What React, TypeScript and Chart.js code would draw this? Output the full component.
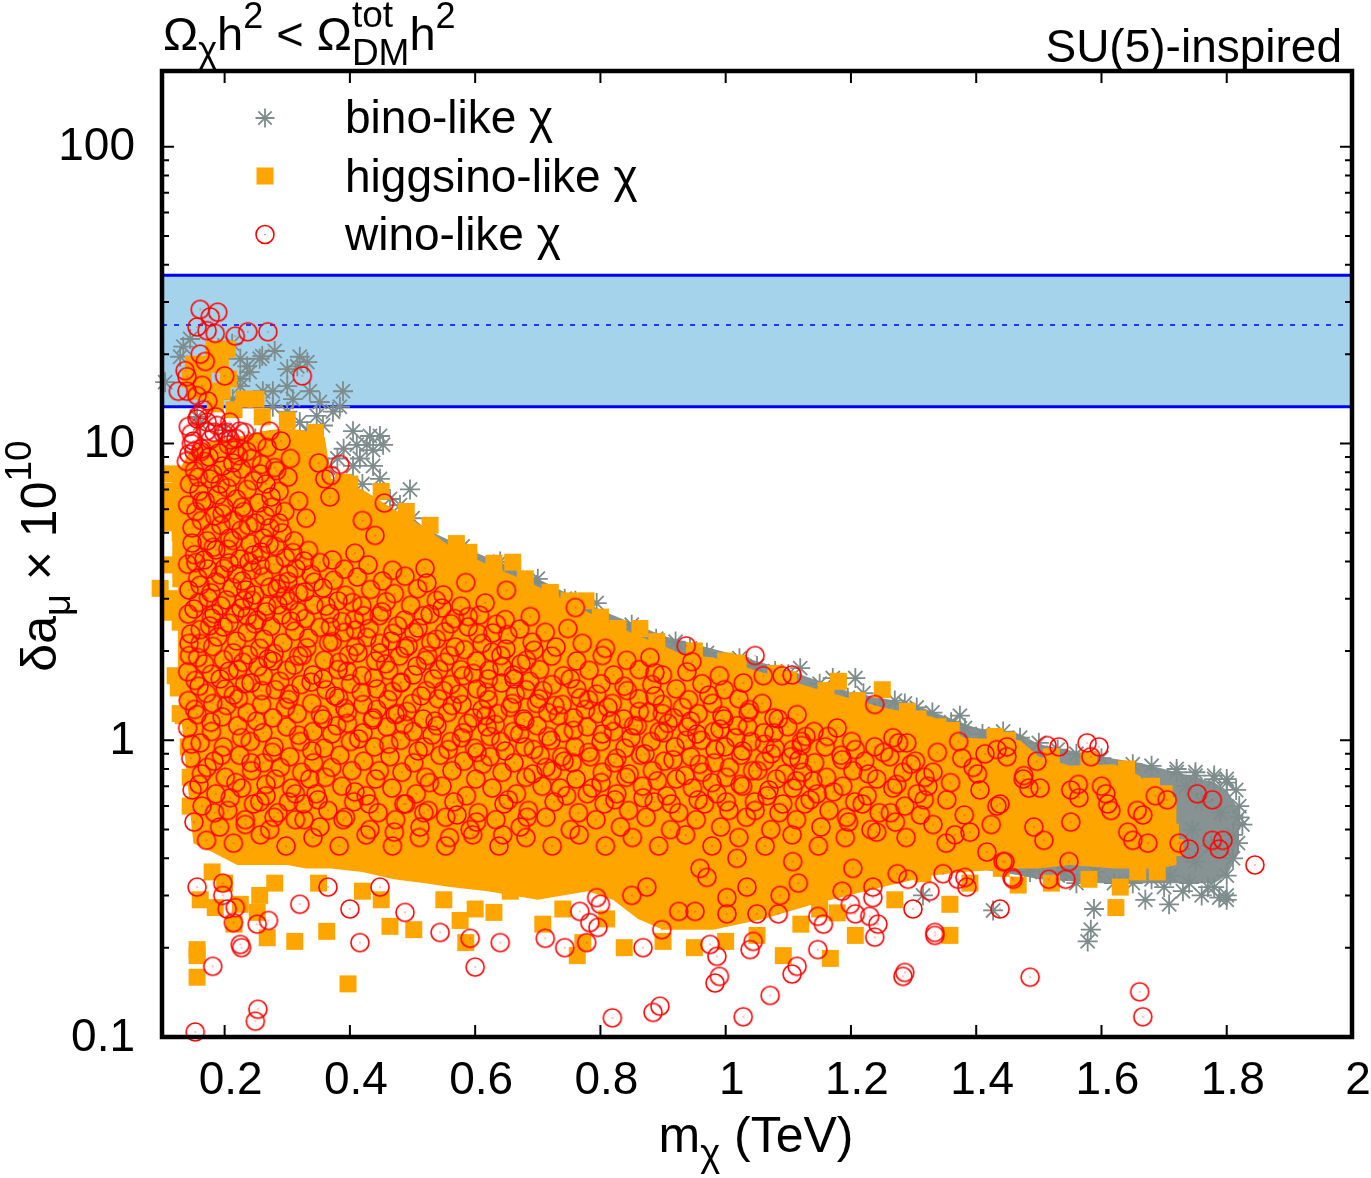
import React, { useEffect, useRef } from 'react';
import { Chart, registerables } from 'chart.js';

Chart.register(...registerables);

const FONT = '"Liberation Sans", Arial, sans-serif';
const ORANGE = '#ffa500';
const RED = '#ff0000';
const GRAY = '#7e8c8c';
const GRAY_FILL = '#879393';
const BAND = '#a5d3ec';
const BLUE = '#0000ff';

// axis ranges and ticks
const xMin = 0.1;
const xMax = 2;
const yMin = 0.1;
const yMax = 180;
const xTicks = [0.2, 0.4, 0.6, 0.8, 1, 1.2, 1.4, 1.6, 1.8, 2];
const xTickLabels = ['0.2', '0.4', '0.6', '0.8', '1', '1.2', '1.4', '1.6', '1.8', '2'];
const yTicks = [0.1, 1, 10, 100];
const yTickLabels = ['0.1', '1', '10', '100'];

// g-2 band (central value and 2 sigma edges)
const bandX = [0.1, 2.0];
const bandLow = [13.3, 13.3];
const bandMid = [25.1, 25.1];
const bandHigh = [36.9, 36.9];

// dense core of the higgsino-like cloud (upper / lower edges)
const orangeEdgeX = [0.125, 0.15, 0.18, 0.22, 0.26, 0.30, 0.33, 0.36, 0.37, 0.42, 0.47, 0.52, 0.56, 0.62, 0.66, 0.70, 0.74, 0.78, 0.82, 0.86, 0.90, 0.93, 0.98, 1.06, 1.14, 1.25, 1.33, 1.38, 1.47, 1.50, 1.55, 1.62, 1.66, 1.69, 1.72];
const orangeTopY = [8.0, 9.8, 10.2, 10.5, 11.0, 11.3, 11.0, 10.5, 7.6, 7.0, 6.0, 5.2, 4.5, 3.9, 3.6, 3.3, 3.0, 2.7, 2.45, 2.25, 2.08, 1.95, 1.9, 1.69, 1.5, 1.29, 1.2, 1.02, 1.0, 0.88, 0.82, 0.83, 0.76, 0.66, 0.64];
const orangeBotY = [1.6, 0.45, 0.42, 0.38, 0.38, 0.38, 0.37, 0.37, 0.37, 0.36, 0.34, 0.33, 0.32, 0.31, 0.30, 0.29, 0.30, 0.31, 0.29, 0.25, 0.23, 0.23, 0.23, 0.25, 0.28, 0.32, 0.35, 0.36, 0.37, 0.37, 0.38, 0.37, 0.37, 0.37, 0.38];

// dense core of the bino-like cloud
const grayEdgeX = [0.50, 0.60, 0.70, 0.80, 0.90, 1.00, 1.10, 1.20, 1.30, 1.40, 1.47, 1.50, 1.60, 1.66, 1.70, 1.74, 1.78, 1.80, 1.82];
const grayTopY = [5.4, 4.3, 3.5, 2.75, 2.25, 1.98, 1.72, 1.45, 1.32, 1.1, 1.05, 0.97, 0.88, 0.84, 0.8, 0.76, 0.72, 0.68, 0.58];
const grayBotY = [3.5, 2.8, 2.2, 1.8, 1.5, 1.3, 1.1, 0.95, 0.6, 0.37, 0.35, 0.34, 0.33, 0.33, 0.33, 0.33, 0.33, 0.35, 0.42];

// bino-like points
const binoUpper = [
  [0.145, 22.5], [0.134, 21.2], [0.129, 19.6], [0.105, 16.1], [0.193, 19.3], [0.225, 19.3], [0.236, 18.2], [0.225, 16.5],
  [0.24, 17.4], [0.256, 19.3], [0.30, 17.8], [0.32, 19.6], [0.332, 18.8], [0.316, 18.2], [0.30, 15.6], [0.309, 14.1],
  [0.277, 15.0], [0.261, 15.0], [0.277, 13.3], [0.225, 15.6], [0.213, 14.1], [0.336, 15.0], [0.352, 13.8], [0.373, 12.8],
  [0.384, 13.3], [0.389, 15.0], [0.347, 12.4], [0.357, 11.5], [0.332, 11.0], [0.32, 11.8], [0.30, 12.8], [0.405, 11.0],
  [0.411, 9.9], [0.427, 9.9], [0.437, 9.5], [0.416, 8.9], [0.405, 8.4], [0.432, 10.6], [0.448, 10.6], [0.453, 9.9],
  [0.437, 8.4], [0.448, 7.6], [0.48, 6.2], [0.496, 7.0], [0.464, 6.5], [0.156, 12.3], [0.161, 11.7], [0.20, 11.1],
  [0.249, 10.4], [0.26, 9.3], [0.233, 7.9], [0.212, 21.7], [0.26, 19.7], [0.28, 20.5], [0.19, 21.0], [0.38, 8.9],
  [0.39, 9.6], [0.345, 9.2], [0.365, 8.3], [0.42, 7.3],
];
const binoFringe = [
  [0.544, 4.27], [0.56, 4.4], [0.592, 4.1], [0.616, 3.65], [0.656, 3.8], [0.688, 3.4], [0.72, 2.9], [0.743, 3.0],
  [0.779, 2.7], [0.794, 2.9], [0.806, 2.22], [0.815, 2.17], [0.887, 2.07], [0.889, 2.2], [0.943, 2.04], [0.991, 1.84],
  [1.022, 1.89], [1.079, 1.71], [1.119, 1.75], [1.171, 1.62], [1.195, 1.39], [1.207, 1.62], [1.246, 1.27], [1.286, 1.33],
  [1.305, 1.29], [1.374, 1.21], [1.382, 1.1], [1.443, 1.07], [1.41, 1.05], [1.47, 1.02], [1.5, 0.98], [1.53, 0.93],
  [1.56, 0.9], [1.6, 0.87], [1.65, 0.83], [1.68, 0.82], [1.72, 0.8], [1.75, 0.78], [1.78, 0.76], [1.8, 0.74],
  [0.5, 5.6], [0.52, 5.1], [0.58, 4.5], [0.64, 4.0], [0.7, 3.5], [0.76, 2.95], [0.85, 2.45], [0.92, 2.15],
  [0.97, 1.97], [1.05, 1.78], [1.1, 1.67], [1.15, 1.55], [1.22, 1.44], [1.27, 1.36], [1.33, 1.24], [1.36, 1.15],
];
const binoTail = [
  [1.72, 0.78], [1.75, 0.76], [1.78, 0.74], [1.80, 0.72], [1.815, 0.68], [1.82, 0.6], [1.825, 0.52], [1.818, 0.45],
  [1.81, 0.4], [1.8, 0.35], [1.78, 0.32], [1.76, 0.3], [1.8, 0.3], [1.74, 0.33], [1.71, 0.35], [1.68, 0.34],
  [1.65, 0.33], [1.82, 0.55], [1.81, 0.48], [1.5, 0.38], [1.53, 0.35], [1.56, 0.33], [1.59, 0.36], [1.588, 0.27],
  [1.583, 0.23], [1.578, 0.21], [1.67, 0.29], [1.708, 0.28], [1.70, 0.32], [1.73, 0.31], [1.77, 0.32], [1.8, 0.29],
  [1.788, 0.295], [1.427, 0.267], [1.28, 0.44], [1.3, 0.41], [1.315, 0.3], [1.45, 0.39], [1.486, 0.36], [1.278, 0.40],
  [1.62, 0.33], [1.54, 0.36], [1.735, 0.7], [1.76, 0.62], [1.79, 0.57], [1.745, 0.5], [1.775, 0.44], [1.75, 0.39],
];

// higgsino-like points outside the dense core
const higgsinoEdge = [
  [0.183, 20.8], [0.204, 20.8], [0.15, 18.5], [0.17, 18.5], [0.193, 18.5], [0.145, 16.5], [0.166, 16.5], [0.206, 16.5],
  [0.153, 15.0], [0.177, 15.0], [0.196, 15.0], [0.231, 14.1], [0.25, 14.1], [0.185, 13.6], [0.215, 13.0], [0.26, 12.3],
  [0.30, 12.0], [0.116, 7.9], [0.116, 6.9], [0.116, 6.1], [0.116, 5.4], [0.129, 5.0], [0.116, 3.9], [0.097, 3.25],
  [0.116, 3.0], [0.116, 2.7], [0.129, 2.5], [0.121, 1.65], [0.126, 1.5], [0.129, 1.23], [0.13, 4.4], [0.13, 7.3],
  [0.13, 3.5], [0.66, 3.98], [0.777, 2.95], [0.828, 2.38], [0.863, 2.38], [1.18, 1.58], [1.25, 1.48], [1.307, 1.18],
  [1.339, 1.11], [0.528, 5.3], [0.45, 6.9], [0.39, 7.4], [0.59, 4.3], [0.72, 3.15], [0.95, 2.0], [1.02, 1.82],
  [1.1, 1.6], [1.43, 1.03], [1.45, 1.0], [1.58, 0.86], [1.64, 0.8], [0.345, 10.9], [0.4, 7.3], [0.49, 5.9],
  [0.57, 4.6], [0.63, 3.95], [0.68, 3.5], [0.75, 2.95], [0.8, 2.6], [0.89, 2.15], [1.0, 1.85], [1.08, 1.68],
  [1.16, 1.47], [1.21, 1.36], [1.29, 1.25], [1.36, 1.08], [1.52, 0.88], [1.68, 0.7], [1.7, 0.66],
];
const higgsinoLow = [
  [0.156, 0.188], [0.156, 0.159], [0.397, 0.151], [0.585, 0.208], [0.763, 0.188], [0.838, 0.20], [0.156, 0.197], [0.363, 0.227],
  [0.312, 0.21], [0.215, 0.24], [0.268, 0.216], [0.252, 0.263], [0.256, 0.30], [0.225, 0.28], [0.161, 0.29], [0.185, 0.273],
  [0.464, 0.236], [0.502, 0.23], [0.576, 0.247], [0.63, 0.263], [0.656, 0.31], [0.708, 0.24], [0.161, 0.53], [0.134, 1.21],
  [0.772, 0.208], [1.092, 0.188], [1.167, 0.184], [1.178, 0.262], [1.358, 0.22], [1.358, 0.28], [1.467, 0.325], [1.315, 0.355],
  [1.207, 0.22], [1.63, 0.32], [1.623, 0.273], [1.658, 0.36], [1.689, 0.36], [1.44, 0.37], [1.71, 0.49], [1.717, 0.435],
  [0.35, 0.33], [0.42, 0.31], [0.55, 0.29], [0.9, 0.21], [0.95, 0.2], [1.0, 0.21], [0.81, 0.25], [1.12, 0.24],
  [1.27, 0.29], [0.18, 0.36], [0.2, 0.33], [0.28, 0.33], [0.45, 0.29], [0.6, 0.27], [0.74, 0.27], [1.05, 0.22],
  [1.15, 0.27], [1.39, 0.33], [1.52, 0.33], [1.58, 0.34], [0.145, 0.6], [0.145, 0.75], [0.142, 0.95],
];

// wino-like points
const winoBand = [
  [0.161, 28.3], [0.189, 27.7], [0.177, 26.7], [0.156, 24.7], [0.172, 24.0], [0.185, 23.5], [0.217, 23.0], [0.237, 23.8],
  [0.269, 23.8], [0.161, 20.0], [0.169, 18.9], [0.137, 17.6], [0.140, 16.8], [0.200, 16.9], [0.164, 15.7], [0.126, 15.0],
  [0.140, 15.0], [0.156, 14.5], [0.173, 13.9], [0.324, 16.9], [0.166, 13.0], [0.158, 12.4], [0.172, 11.8], [0.188, 11.5],
  [0.208, 11.8], [0.224, 11.0], [0.198, 10.8], [0.209, 10.3], [0.236, 9.4], [0.272, 11.0], [0.280, 8.3], [0.150, 10.2],
  [0.163, 9.6], [0.143, 9.2], [0.350, 8.6], [0.370, 7.8], [0.384, 8.5], [0.360, 7.6], [0.368, 6.6], [0.455, 6.3],
  [0.420, 5.5], [0.440, 4.9], [0.520, 3.8], [0.585, 3.4], [0.650, 3.2], [0.760, 2.8],
];
const winoCluster = [
  [0.142, 11.4], [0.156, 12.1], [0.171, 11.0], [0.186, 12.3], [0.203, 10.9], [0.218, 10.4], [0.232, 10.9], [0.251, 10.1],
  [0.268, 9.7], [0.147, 10.0], [0.162, 9.4], [0.177, 10.3], [0.191, 9.3], [0.206, 9.9], [0.222, 9.1], [0.243, 8.9],
  [0.259, 8.5], [0.283, 8.1], [0.301, 7.7], [0.139, 8.7], [0.152, 8.1], [0.168, 8.7], [0.181, 7.9], [0.197, 8.4],
  [0.211, 7.7], [0.227, 8.2], [0.246, 7.5], [0.266, 7.3], [0.287, 6.9], [0.144, 7.3], [0.159, 6.9], [0.176, 7.6],
  [0.189, 6.7], [0.204, 7.1], [0.219, 6.5], [0.236, 7.0], [0.254, 6.3], [0.276, 6.1], [0.296, 5.9], [0.141, 6.2],
  [0.154, 5.9], [0.169, 6.4], [0.184, 5.7], [0.199, 6.1], [0.214, 5.5], [0.231, 5.9], [0.249, 5.4], [0.272, 5.2],
  [0.292, 5.0], [0.148, 5.2], [0.163, 5.5], [0.179, 5.0], [0.194, 5.3], [0.208, 4.8], [0.226, 5.1], [0.241, 4.6],
  [0.262, 4.8], [0.281, 4.5], [0.311, 4.7], [0.318, 6.4], [0.33, 5.6], [0.305, 8.9], [0.29, 10.2], [0.147, 10.8],
  [0.175, 9.0], [0.158, 7.7], [0.193, 7.3], [0.213, 8.6], [0.228, 6.1], [0.257, 7.9], [0.196, 5.8], [0.238, 5.3],
  [0.164, 6.4], [0.274, 6.6], [0.216, 9.5], [0.183, 10.9], [0.151, 9.4], [0.265, 5.7], [0.287, 5.4], [0.205, 4.4],
  [0.172, 4.7],
];
const winoUpper = [
  [0.152, 4.22], [0.186, 4.38], [0.224, 4.08], [0.258, 4.31], [0.297, 4.12], [0.334, 4.36], [0.372, 4.05], [0.408, 4.27],
  [0.141, 3.92], [0.173, 3.78], [0.207, 3.96], [0.243, 3.74], [0.279, 3.91], [0.314, 3.79], [0.352, 3.97], [0.391, 3.77], [0.429, 3.9], [0.468, 3.74],
  [0.157, 3.52], [0.193, 3.61], [0.228, 3.44], [0.262, 3.56], [0.301, 3.43], [0.338, 3.62], [0.374, 3.46], [0.412, 3.55], [0.452, 3.44], [0.488, 3.57], [0.523, 3.39],
  [0.143, 3.21], [0.178, 3.14], [0.212, 3.27], [0.248, 3.09], [0.284, 3.24], [0.318, 3.13], [0.357, 3.26], [0.393, 3.08], [0.433, 3.22], [0.471, 3.12], [0.508, 3.24], [0.549, 3.09],
  [0.158, 2.91], [0.194, 2.84], [0.231, 2.96], [0.267, 2.83], [0.303, 2.94], [0.342, 2.86], [0.381, 2.95], [0.419, 2.84], [0.458, 2.93], [0.497, 2.85], [0.538, 2.96], [0.577, 2.83], [0.616, 2.9],
  [0.142, 2.66], [0.179, 2.58], [0.216, 2.67], [0.252, 2.54], [0.291, 2.64], [0.329, 2.57], [0.368, 2.67], [0.407, 2.55], [0.447, 2.63], [0.487, 2.54], [0.528, 2.66], [0.567, 2.57], [0.607, 2.64], [0.648, 2.55], [0.688, 2.61],
  [0.161, 2.36], [0.198, 2.41], [0.236, 2.31], [0.274, 2.42], [0.312, 2.33], [0.352, 2.4], [0.391, 2.31], [0.431, 2.38], [0.469, 2.29], [0.509, 2.39], [0.551, 2.32], [0.589, 2.41], [0.628, 2.3], [0.671, 2.37], [0.712, 2.31], [0.748, 2.38],
];
const winoMid = [
  [0.143, 2.12], [0.181, 2.07], [0.219, 2.16], [0.256, 2.04], [0.293, 2.13], [0.331, 2.05], [0.372, 2.15], [0.409, 2.07], [0.448, 2.12], [0.488, 2.04], [0.529, 2.14], [0.568, 2.06], [0.611, 2.12], [0.649, 2.03], [0.691, 2.14], [0.729, 2.06], [0.771, 2.12], [0.808, 2.04],
  [0.157, 1.9], [0.198, 1.87], [0.238, 1.94], [0.277, 1.85], [0.318, 1.92], [0.359, 1.86], [0.398, 1.94], [0.441, 1.85], [0.479, 1.92], [0.521, 1.86], [0.559, 1.93], [0.602, 1.85], [0.641, 1.93], [0.682, 1.86], [0.722, 1.92], [0.762, 1.85], [0.803, 1.93], [0.842, 1.86], [0.879, 1.9],
  [0.141, 1.7], [0.179, 1.67], [0.221, 1.73], [0.262, 1.65], [0.299, 1.72], [0.341, 1.66], [0.381, 1.73], [0.419, 1.65], [0.462, 1.72], [0.501, 1.66], [0.542, 1.73], [0.581, 1.65], [0.622, 1.72], [0.661, 1.66], [0.703, 1.73], [0.741, 1.65], [0.782, 1.72], [0.821, 1.66], [0.862, 1.73], [0.899, 1.66], [0.938, 1.7],
  [0.159, 1.52], [0.201, 1.49], [0.242, 1.56], [0.281, 1.48], [0.322, 1.54], [0.362, 1.48], [0.401, 1.55], [0.443, 1.49], [0.481, 1.56], [0.522, 1.47], [0.561, 1.54], [0.603, 1.49], [0.642, 1.56], [0.681, 1.48], [0.723, 1.54], [0.762, 1.49], [0.801, 1.55], [0.843, 1.47], [0.882, 1.54], [0.921, 1.49], [0.962, 1.55], [0.998, 1.48],
  [0.142, 1.36], [0.181, 1.33], [0.222, 1.38], [0.259, 1.32], [0.302, 1.37], [0.339, 1.33], [0.382, 1.39], [0.421, 1.32], [0.461, 1.37], [0.499, 1.33], [0.541, 1.38], [0.579, 1.32], [0.621, 1.37], [0.659, 1.33], [0.702, 1.38], [0.739, 1.32], [0.781, 1.37], [0.819, 1.33], [0.861, 1.38], [0.899, 1.32], [0.941, 1.37], [0.979, 1.33], [1.021, 1.38], [1.058, 1.33],
];
const winoLow = [
  [0.156, 1.22], [0.196, 1.2], [0.236, 1.24], [0.277, 1.19], [0.316, 1.23], [0.357, 1.18], [0.396, 1.24], [0.437, 1.19], [0.476, 1.23], [0.517, 1.18], [0.556, 1.24], [0.597, 1.19], [0.636, 1.23], [0.677, 1.18], [0.716, 1.24], [0.757, 1.19], [0.796, 1.23], [0.837, 1.18], [0.876, 1.24], [0.917, 1.19], [0.956, 1.23], [0.997, 1.18], [1.036, 1.24], [1.077, 1.19], [1.114, 1.22],
  [0.141, 1.1], [0.179, 1.07], [0.221, 1.12], [0.261, 1.06], [0.299, 1.11], [0.341, 1.07], [0.379, 1.12], [0.421, 1.06], [0.459, 1.11], [0.501, 1.07], [0.539, 1.12], [0.581, 1.06], [0.619, 1.11], [0.661, 1.07], [0.699, 1.12], [0.741, 1.06], [0.779, 1.11], [0.821, 1.07], [0.859, 1.12], [0.901, 1.06], [0.939, 1.11], [0.981, 1.07], [1.019, 1.12], [1.061, 1.06], [1.099, 1.11], [1.141, 1.07], [1.178, 1.1],
  [0.161, 0.98], [0.198, 0.95], [0.241, 0.99], [0.279, 0.95], [0.321, 0.99], [0.359, 0.94], [0.401, 0.99], [0.439, 0.95], [0.481, 1.0], [0.519, 0.95], [0.561, 0.99], [0.599, 0.94], [0.641, 0.99], [0.679, 0.95], [0.721, 1.0], [0.759, 0.95], [0.801, 0.99], [0.839, 0.94], [0.881, 0.99], [0.919, 0.95], [0.961, 1.0], [0.999, 0.95], [1.041, 0.99], [1.079, 0.94], [1.121, 0.99], [1.159, 0.95], [1.201, 0.99], [1.238, 0.95], [1.276, 0.98],
  [0.146, 0.87], [0.183, 0.85], [0.224, 0.89], [0.262, 0.84], [0.304, 0.88], [0.342, 0.84], [0.384, 0.89], [0.422, 0.85], [0.464, 0.88], [0.502, 0.84], [0.544, 0.89], [0.582, 0.85], [0.624, 0.88], [0.662, 0.84], [0.704, 0.89], [0.742, 0.85], [0.784, 0.88], [0.822, 0.84], [0.864, 0.89], [0.902, 0.85], [0.944, 0.88], [0.982, 0.84], [1.024, 0.89], [1.062, 0.85], [1.104, 0.88], [1.142, 0.84], [1.184, 0.89], [1.222, 0.85], [1.262, 0.88], [1.303, 0.85],
  [0.163, 0.77], [0.201, 0.75], [0.243, 0.79], [0.281, 0.74], [0.323, 0.78], [0.361, 0.75], [0.403, 0.79], [0.441, 0.74], [0.483, 0.78], [0.521, 0.75], [0.563, 0.79], [0.601, 0.74], [0.643, 0.78], [0.681, 0.75], [0.723, 0.79], [0.761, 0.74], [0.803, 0.78], [0.841, 0.75], [0.883, 0.79], [0.921, 0.74], [0.963, 0.78], [1.001, 0.75], [1.043, 0.79], [1.081, 0.74], [1.123, 0.78], [1.161, 0.75], [1.203, 0.79], [1.241, 0.74], [1.283, 0.78], [1.318, 0.75],
  [0.148, 0.68], [0.186, 0.66], [0.227, 0.69], [0.266, 0.65], [0.307, 0.69], [0.346, 0.66], [0.387, 0.7], [0.426, 0.65], [0.467, 0.69], [0.506, 0.66], [0.547, 0.7], [0.586, 0.65], [0.627, 0.69], [0.666, 0.66], [0.707, 0.7], [0.746, 0.65], [0.787, 0.69], [0.826, 0.66], [0.867, 0.7], [0.906, 0.65], [0.947, 0.69], [0.986, 0.66], [1.027, 0.7], [1.066, 0.65], [1.107, 0.69], [1.146, 0.66], [1.187, 0.7], [1.226, 0.65], [1.267, 0.69], [1.306, 0.66],
  [0.164, 0.6], [0.205, 0.58], [0.246, 0.61], [0.285, 0.57], [0.326, 0.61], [0.365, 0.58], [0.406, 0.62], [0.445, 0.57], [0.486, 0.61], [0.525, 0.58], [0.566, 0.62], [0.605, 0.57], [0.646, 0.61], [0.685, 0.58], [0.726, 0.62], [0.765, 0.57], [0.806, 0.61], [0.845, 0.58], [0.886, 0.62], [0.925, 0.57], [0.966, 0.61], [1.005, 0.58], [1.046, 0.62], [1.085, 0.57], [1.126, 0.61], [1.165, 0.58], [1.206, 0.62], [1.245, 0.57], [1.286, 0.6],
  [0.151, 0.53], [0.192, 0.51], [0.233, 0.54], [0.272, 0.5], [0.313, 0.54], [0.352, 0.51], [0.393, 0.55], [0.432, 0.5], [0.473, 0.54], [0.512, 0.51], [0.553, 0.55], [0.592, 0.5], [0.633, 0.54], [0.672, 0.51], [0.713, 0.55], [0.752, 0.5], [0.793, 0.54], [0.832, 0.51], [0.873, 0.55], [0.912, 0.5], [0.953, 0.54], [0.992, 0.51], [1.033, 0.55], [1.072, 0.5], [1.113, 0.54], [1.152, 0.51], [1.193, 0.55], [1.232, 0.5], [1.271, 0.53],
  [0.171, 0.46], [0.214, 0.45], [0.257, 0.48], [0.298, 0.44], [0.341, 0.47], [0.383, 0.44], [0.426, 0.48], [0.468, 0.44], [0.511, 0.47], [0.553, 0.44], [0.596, 0.48], [0.638, 0.44], [0.681, 0.47], [0.723, 0.44], [0.766, 0.48], [0.808, 0.44], [0.851, 0.47], [0.893, 0.44], [0.936, 0.48], [0.978, 0.44], [1.021, 0.47], [1.063, 0.44], [1.106, 0.48], [1.148, 0.44], [1.191, 0.47],
];
const winoExtra = [
  [0.148, 4.62], [0.167, 4.05], [0.213, 4.71], [0.239, 3.98], [0.271, 4.57], [0.302, 3.63], [0.327, 4.02], [0.161, 3.33], [0.199, 3.79], [0.234, 3.21],
  [0.257, 3.88], [0.289, 3.37], [0.318, 2.71], [0.343, 3.41], [0.151, 2.77], [0.174, 3.01], [0.207, 2.48], [0.226, 2.79], [0.263, 2.19], [0.285, 2.86],
  [0.334, 2.21], [0.146, 2.28], [0.189, 2.23], [0.214, 1.97], [0.248, 2.47], [0.279, 1.96], [0.306, 2.52], [0.168, 1.81], [0.193, 1.61], [0.229, 1.83],
  [0.253, 1.77], [0.288, 1.58], [0.311, 1.79], [0.338, 1.57], [0.153, 1.59], [0.176, 2.43], [0.244, 2.96], [0.297, 3.07], [0.328, 3.16], [0.186, 3.42],
  [0.219, 3.63], [0.272, 3.28], [0.154, 3.97], [0.182, 4.47], [0.246, 4.21], [0.309, 4.29], [0.203, 2.97], [0.236, 2.62], [0.266, 2.71], [0.183, 2.67],
  [0.144, 1.93], [0.207, 1.71], [0.269, 1.88], [0.324, 1.93], [0.171, 1.44], [0.214, 1.42], [0.259, 1.47], [0.304, 1.43], [0.232, 1.55], [0.161, 2.12],
  [0.362, 2.83], [0.387, 2.51], [0.404, 2.91], [0.427, 2.22], [0.451, 2.71], [0.476, 2.43], [0.493, 2.08], [0.517, 2.63], [0.538, 2.19], [0.561, 2.47],
  [0.583, 2.02], [0.604, 2.29], [0.627, 1.98], [0.652, 2.27], [0.673, 1.81], [0.694, 2.01], [0.366, 2.13], [0.383, 1.83], [0.413, 1.97], [0.438, 1.62],
  [0.457, 1.81], [0.482, 1.57], [0.507, 1.78], [0.533, 1.61], [0.552, 1.83], [0.574, 1.43], [0.597, 1.68], [0.618, 1.45], [0.643, 1.77], [0.664, 1.43],
  [0.687, 1.58], [0.357, 1.61], [0.376, 1.41], [0.396, 1.71], [0.418, 1.45], [0.443, 1.27], [0.468, 1.46], [0.491, 1.25], [0.514, 1.41], [0.536, 1.16],
  [0.563, 1.31], [0.588, 1.14], [0.611, 1.27], [0.632, 1.13], [0.656, 1.29], [0.679, 1.16], [0.698, 1.33], [0.353, 1.22], [0.371, 1.05], [0.392, 1.28],
  [0.414, 1.01], [0.436, 1.17], [0.462, 0.97], [0.486, 1.13], [0.509, 0.92], [0.531, 1.04], [0.557, 0.93], [0.578, 1.02], [0.603, 0.91], [0.624, 1.03],
  [0.648, 0.92], [0.671, 1.05], [0.693, 0.93], [0.369, 2.41], [0.422, 2.63], [0.466, 2.16], [0.502, 2.31], [0.547, 2.79], [0.589, 2.61], [0.634, 2.46],
  [0.409, 2.35], [0.448, 1.97], [0.524, 1.93], [0.577, 1.73], [0.621, 1.61], [0.662, 1.61], [0.396, 1.14], [0.472, 1.22], [0.549, 1.47], [0.617, 1.21],
  [0.708, 1.47], [0.733, 1.21], [0.752, 1.61], [0.776, 1.27], [0.794, 1.43], [0.817, 1.16], [0.838, 1.52], [0.862, 1.25], [0.887, 1.41], [0.908, 1.14],
  [0.931, 1.29], [0.954, 1.05], [0.973, 1.42], [0.994, 1.21], [1.016, 1.02], [1.038, 1.27], [1.062, 0.97], [1.084, 1.18], [1.107, 0.93], [1.128, 1.03],
  [0.716, 1.03], [0.738, 0.88], [0.757, 1.08], [0.781, 0.91], [0.803, 1.05], [0.826, 0.87], [0.849, 1.02], [0.871, 0.9], [0.894, 1.07], [0.916, 0.86],
  [0.937, 1.0], [0.958, 0.83], [0.983, 0.93], [1.006, 0.81], [1.027, 0.92], [1.051, 0.79], [1.073, 0.9], [1.094, 0.77], [1.117, 0.86], [1.139, 0.73],
  [0.713, 0.81], [0.736, 0.69], [0.755, 0.84], [0.779, 0.66], [0.801, 0.72], [0.823, 0.63], [0.846, 0.77], [0.868, 0.64], [0.891, 0.73], [0.913, 0.61],
  [0.935, 0.76], [0.956, 0.63], [0.978, 0.72], [1.001, 0.62], [1.023, 0.71], [1.047, 0.58], [1.069, 0.68], [1.091, 0.61], [1.113, 0.73], [1.135, 0.63],
  [0.727, 1.31], [0.768, 1.39], [0.812, 1.29], [0.853, 1.12], [0.899, 1.23], [0.944, 1.16], [0.991, 1.09], [1.035, 1.11], [1.077, 1.06], [1.121, 0.96],
  [0.152, 1.27], [0.178, 1.15], [0.203, 1.31], [0.227, 1.02], [0.251, 1.16], [0.276, 0.91], [0.297, 1.29], [0.318, 1.04], [0.339, 0.92], [0.147, 0.97],
  [0.172, 0.81], [0.195, 0.89], [0.218, 0.72], [0.242, 0.84], [0.266, 0.71], [0.289, 0.81], [0.313, 0.66], [0.336, 0.74], [0.159, 0.71], [0.184, 0.57],
  [0.209, 0.64], [0.233, 0.52], [0.256, 0.62], [0.279, 0.55], [0.302, 0.62], [0.327, 0.54], [0.349, 0.63],
  [1.163, 1.03], [1.186, 0.86], [1.207, 0.93], [1.228, 0.77], [1.252, 0.91], [1.273, 0.71], [1.296, 0.83], [1.317, 0.63], [1.338, 0.91], [1.359, 0.72],
  [1.381, 0.56], [1.402, 0.77], [1.424, 0.52], [1.172, 0.67], [1.196, 0.53], [1.218, 0.61], [1.241, 0.49], [1.263, 0.57], [1.288, 0.47], [1.311, 0.56],
  [1.352, 0.45], [1.39, 0.49], [1.372, 0.99], [1.414, 0.9],
  [0.371, 0.81], [0.408, 0.67], [0.447, 0.79], [0.489, 0.61], [0.527, 0.72], [0.571, 0.56], [0.612, 0.83], [0.653, 0.63], [0.692, 0.77], [0.389, 0.54],
  [0.431, 0.61], [0.471, 0.49], [0.518, 0.57], [0.559, 0.47], [0.602, 0.53], [0.644, 0.48], [0.683, 0.55],
];
const winoSparse = [
  [0.153, 0.104], [0.253, 0.124], [0.249, 0.113], [0.197, 0.33], [0.197, 0.30], [0.204, 0.27], [0.214, 0.243], [0.225, 0.205],
  [0.227, 0.2], [0.252, 0.24], [0.27, 0.247], [0.156, 0.32], [0.181, 0.173], [0.217, 0.273], [0.32, 0.28], [0.365, 0.32],
  [0.4, 0.27], [0.448, 0.32], [0.488, 0.263], [0.544, 0.225], [0.592, 0.215], [0.64, 0.208], [0.712, 0.215], [0.743, 0.20],
  [0.8, 0.28], [0.6, 0.172], [0.416, 0.208], [0.937, 2.08], [0.946, 1.84], [1.047, 1.93], [1.06, 1.65], [1.09, 1.65],
  [1.106, 1.66], [0.99, 1.65], [1.028, 1.56], [0.887, 1.69], [1.238, 1.32], [1.267, 1.02], [1.289, 0.98], [1.377, 0.87],
  [1.395, 0.81], [1.433, 0.93], [1.449, 0.88], [1.331, 0.78], [1.323, 0.70], [1.353, 0.63], [1.406, 0.68], [1.433, 0.60],
  [1.475, 0.74], [1.331, 0.52], [1.366, 0.48], [1.417, 0.42], [1.443, 0.39], [1.459, 0.34], [1.347, 0.355], [1.371, 0.34],
  [1.385, 0.32], [1.274, 0.355], [1.291, 0.34], [1.299, 0.27], [1.326, 0.31], [1.334, 0.22], [1.283, 0.16], [1.235, 0.32],
  [1.235, 0.295], [1.23, 0.255], [1.243, 0.24], [1.238, 0.217], [1.186, 0.31], [1.199, 0.28], [1.207, 0.26], [1.203, 0.37],
  [1.147, 0.255], [1.156, 0.24], [1.147, 0.197], [1.116, 0.33], [1.107, 0.39], [1.084, 0.26], [1.087, 0.30], [1.044, 0.21],
  [1.039, 0.197], [1.05, 0.26], [1.034, 0.32], [1.002, 0.295], [0.975, 0.205], [0.986, 0.187], [0.99, 0.16], [0.983, 0.152],
  [1.071, 0.138], [1.028, 0.117], [1.114, 0.173], [1.106, 0.163], [0.884, 0.121], [0.895, 0.127], [0.819, 0.116], [0.868, 0.20],
  [0.898, 0.23], [0.925, 0.265], [0.778, 0.208], [0.783, 0.243], [0.796, 0.234], [0.767, 0.265], [0.794, 0.295], [0.85, 0.30],
  [0.874, 0.32], [0.959, 0.37], [1.018, 0.40], [0.97, 0.345], [1.002, 0.26], [0.951, 0.265],
];
const winoTail = [
  [1.513, 0.96], [1.532, 0.95], [1.577, 0.98], [1.596, 0.95], [1.583, 0.88], [1.497, 0.85], [1.449, 0.95], [1.476, 0.76],
  [1.484, 0.69], [1.502, 0.69], [1.551, 0.68], [1.563, 0.71], [1.564, 0.64], [1.6, 0.70], [1.607, 0.66], [1.61, 0.61],
  [1.615, 0.58], [1.686, 0.65], [1.705, 0.63], [1.753, 0.66], [1.777, 0.63], [1.657, 0.58], [1.666, 0.56], [1.492, 0.51],
  [1.551, 0.53], [1.438, 0.61], [1.508, 0.46], [1.642, 0.49], [1.65, 0.46], [1.674, 0.45], [1.724, 0.45], [1.74, 0.43],
  [1.777, 0.46], [1.794, 0.46], [1.788, 0.43], [1.845, 0.38], [1.548, 0.39], [1.446, 0.39], [1.457, 0.345], [1.516, 0.34],
  [1.543, 0.34], [1.438, 0.27], [1.661, 0.142], [1.666, 0.117], [1.486, 0.159], [1.286, 0.165], [1.334, 0.225], [1.382, 0.345],
];

const P = (a: number[][]) => a.map(([x, y]) => ({ x, y }));
const L = (xs: number[], ys: number[]) => xs.map((x, i) => ({ x, y: ys[i] }));

type Part = { t: string; s: number; dy: number; keep?: boolean };

function layoutParts(ctx: CanvasRenderingContext2D, parts: Part[]) {
  let x = 0;
  let held = 0;
  const pos: number[] = [];
  for (const p of parts) {
    ctx.font = `${p.s}px ${FONT}`;
    const w = ctx.measureText(p.t).width;
    pos.push(x);
    if (p.keep) held = w;
    else {
      x += Math.max(w, held);
      held = 0;
    }
  }
  return { pos, width: x };
}

function drawParts(ctx: CanvasRenderingContext2D, parts: Part[], x0: number, y0: number) {
  const { pos } = layoutParts(ctx, parts);
  ctx.textAlign = 'left';
  ctx.textBaseline = 'alphabetic';
  parts.forEach((p, i) => {
    ctx.font = `${p.s}px ${FONT}`;
    ctx.fillText(p.t, x0 + pos[i], y0 + p.dy);
  });
}

function makeCircle() {
  const c = document.createElement('canvas');
  c.width = 24;
  c.height = 24;
  const g = c.getContext('2d')!;
  g.strokeStyle = RED;
  g.lineWidth = 1.6;
  g.beginPath();
  g.arc(12, 12, 9, 0, Math.PI * 2);
  g.stroke();
  g.fillStyle = RED;
  g.fillRect(11.5, 11.5, 1, 1);
  return c;
}

const decor = {
  id: 'decor',
  beforeDraw(chart: any) {
    const { ctx, width, height } = chart;
    ctx.save();
    ctx.fillStyle = '#fff';
    ctx.fillRect(0, 0, width, height);
    ctx.restore();
  },
  afterDraw(chart: any) {
    const { ctx, chartArea: a, scales } = chart;
    const xs = scales.x;
    const ys = scales.y;
    ctx.save();
    ctx.fillStyle = '#000';
    ctx.strokeStyle = '#000';

    // ticks
    ctx.lineWidth = 2;
    ctx.beginPath();
    const yMinor: number[] = [];
    [0.1, 1, 10].forEach((d) => {
      for (let k = 2; k <= 9; k++) yMinor.push(d * k);
    });
    yTicks.forEach((v) => {
      const py = ys.getPixelForValue(v);
      ctx.moveTo(a.left, py); ctx.lineTo(a.left + 12, py);
      ctx.moveTo(a.right, py); ctx.lineTo(a.right - 12, py);
    });
    yMinor.forEach((v) => {
      const py = ys.getPixelForValue(v);
      ctx.moveTo(a.left, py); ctx.lineTo(a.left + 7, py);
      ctx.moveTo(a.right, py); ctx.lineTo(a.right - 7, py);
    });
    xTicks.forEach((v) => {
      const px = xs.getPixelForValue(v);
      ctx.moveTo(px, a.bottom); ctx.lineTo(px, a.bottom - 12);
      ctx.moveTo(px, a.top); ctx.lineTo(px, a.top + 12);
    });
    ctx.stroke();

    // frame
    ctx.lineWidth = 4.5;
    ctx.strokeRect(a.left, a.top, a.right - a.left, a.bottom - a.top);

    // tick labels
    ctx.font = `46px ${FONT}`;
    ctx.textAlign = 'right';
    ctx.textBaseline = 'middle';
    yTicks.forEach((v, i) => ctx.fillText(yTickLabels[i], 135, ys.getPixelForValue(v) + 1));
    ctx.textAlign = 'center';
    ctx.textBaseline = 'alphabetic';
    xTicks.forEach((v, i) => ctx.fillText(xTickLabels[i], xs.getPixelForValue(v) + 6, 1094));

    // axis titles
    const xt: Part[] = [
      { t: 'm', s: 50, dy: 0 },
      { t: 'χ', s: 38, dy: 14 },
      { t: ' (TeV)', s: 50, dy: 0 },
    ];
    const xw = layoutParts(ctx, xt).width;
    drawParts(ctx, xt, 756 - xw / 2, 1152);

    const yt: Part[] = [
      { t: 'δa', s: 50, dy: 0 },
      { t: 'μ', s: 38, dy: 14 },
      { t: ' × ', s: 50, dy: 0 },
      { t: '10', s: 50, dy: 0 },
      { t: '10', s: 37, dy: -25 },
    ];
    const yw = layoutParts(ctx, yt).width;
    ctx.save();
    ctx.translate(56, 556 + yw / 2);
    ctx.rotate(-Math.PI / 2);
    drawParts(ctx, yt, 0, 0);
    ctx.restore();

    // top texts
    drawParts(ctx, [
      { t: 'Ω', s: 47, dy: 0 },
      { t: 'χ', s: 36, dy: 12 },
      { t: 'h', s: 47, dy: 0 },
      { t: '2', s: 36, dy: -22 },
      { t: ' < ', s: 47, dy: 0 },
      { t: 'Ω', s: 47, dy: 0 },
      { t: 'tot', s: 37, dy: -23, keep: true },
      { t: 'DM', s: 37, dy: 15 },
      { t: 'h', s: 47, dy: 0 },
      { t: '2', s: 36, dy: -22 },
    ], 163, 50);
    ctx.font = `46px ${FONT}`;
    ctx.textAlign = 'right';
    ctx.fillText('SU(5)-inspired', 1342, 62);

    // legend
    const lx = 265;
    ctx.strokeStyle = GRAY;
    ctx.lineWidth = 1.8;
    ctx.beginPath();
    for (let k = 0; k < 4; k++) {
      const ang = (k * Math.PI) / 4;
      ctx.moveTo(lx - 9.5 * Math.cos(ang), 118 - 9.5 * Math.sin(ang));
      ctx.lineTo(lx + 9.5 * Math.cos(ang), 118 + 9.5 * Math.sin(ang));
    }
    ctx.stroke();
    ctx.fillStyle = ORANGE;
    ctx.fillRect(lx - 8.5, 167.5, 17, 17);
    ctx.strokeStyle = RED;
    ctx.lineWidth = 1.6;
    ctx.beginPath();
    ctx.arc(lx, 234.5, 9, 0, Math.PI * 2);
    ctx.stroke();
    ctx.fillStyle = RED;
    ctx.fillRect(lx - 0.5, 234, 1, 1);
    ctx.fillStyle = '#000';
    ctx.font = `46px ${FONT}`;
    ctx.textAlign = 'left';
    ctx.fillText('bino-like χ', 345, 133);
    ctx.fillText('higgsino-like χ', 345, 192);
    ctx.fillText('wino-like χ', 345, 250);
    ctx.restore();
  },
};

export default function App() {
  const ref = useRef<HTMLCanvasElement | null>(null);

  useEffect(() => {
    document.body.style.margin = '0';
    if (!ref.current) return;
    const circle = makeCircle();
    const wino = [...winoBand, ...winoCluster, ...winoUpper, ...winoMid, ...winoLow, ...winoExtra, ...winoSparse, ...winoTail];
    const higgsino = [...higgsinoEdge, ...higgsinoLow];
    const bino = [...binoUpper, ...binoFringe, ...binoTail];

    const chart = new Chart(ref.current, {
      type: 'scatter',
      data: {
        datasets: [
          { label: 'wino-like', data: P(wino), pointStyle: circle as any, pointRadius: 10, backgroundColor: 'rgba(0,0,0,0)', borderWidth: 0, clip: false as any },
          { label: 'higgsino-like', data: P(higgsino), pointStyle: 'rect', pointRadius: 12, backgroundColor: ORANGE, borderWidth: 0, clip: false as any },
          { label: 'higgsino core', data: L(orangeEdgeX, orangeTopY), showLine: true, pointRadius: 0, borderWidth: 0, backgroundColor: ORANGE, fill: '+1' },
          { label: 'higgsino core low', data: L(orangeEdgeX, orangeBotY), showLine: true, pointRadius: 0, borderWidth: 0, fill: false },
          { label: 'bino-like', data: P(bino), pointStyle: 'star', pointRadius: 10, borderColor: GRAY, borderWidth: 1.8, backgroundColor: GRAY, clip: false as any },
          { label: 'bino core', data: L(grayEdgeX, grayTopY), showLine: true, pointRadius: 0, borderWidth: 0, backgroundColor: GRAY_FILL, fill: '+1' },
          { label: 'bino core low', data: L(grayEdgeX, grayBotY), showLine: true, pointRadius: 0, borderWidth: 0, fill: false },
          { label: 'band high', data: L(bandX, bandHigh), showLine: true, pointRadius: 0, borderWidth: 3, borderColor: BLUE, fill: false },
          { label: 'band low', data: L(bandX, bandLow), showLine: true, pointRadius: 0, borderWidth: 3, borderColor: BLUE, fill: false },
          { label: 'band mid', data: L(bandX, bandMid), showLine: true, pointRadius: 0, borderWidth: 1.5, borderColor: BLUE, borderDash: [5, 7], fill: false },
          { label: 'band fill', data: L(bandX, bandHigh), showLine: true, pointRadius: 0, borderWidth: 0, backgroundColor: BAND, fill: '+1' },
          { label: 'band fill low', data: L(bandX, bandLow), showLine: true, pointRadius: 0, borderWidth: 0, fill: false },
        ],
      },
      options: {
        responsive: false,
        animation: false,
        events: [],
        layout: { padding: { left: 0, top: 71, right: 19, bottom: 0 } },
        plugins: { legend: { display: false }, tooltip: { enabled: false } },
        scales: {
          x: {
            type: 'linear', min: xMin, max: xMax,
            grid: { display: false }, border: { display: false }, ticks: { display: false },
            afterFit: (s: any) => { s.height = 141; },
          },
          y: {
            type: 'logarithmic', min: yMin, max: yMax,
            grid: { display: false }, border: { display: false }, ticks: { display: false },
            afterFit: (s: any) => { s.width = 162; },
          },
        },
      },
      plugins: [decor],
    });
    return () => chart.destroy();
  }, []);

  return (
    <div style={{ width: 1371, height: 1178 }}>
      <canvas ref={ref} width={1371} height={1178} style={{ display: 'block' }} />
    </div>
  );
}
